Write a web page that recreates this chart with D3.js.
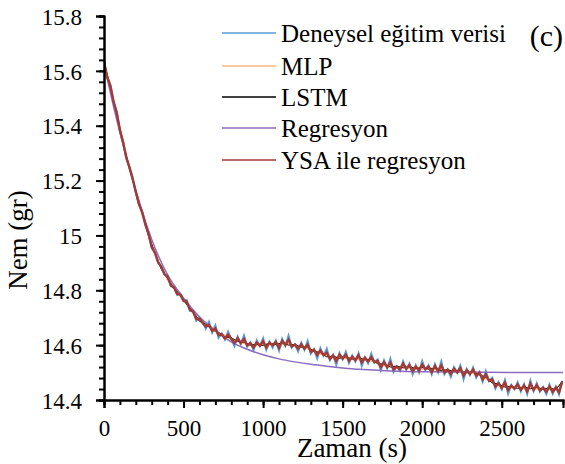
<!DOCTYPE html>
<html>
<head>
<meta charset="utf-8">
<script src="https://cdn.jsdelivr.net/npm/d3@7"></script>
<style>
  body { margin: 0; background: #fff; }
</style>
</head>
<body>
<div id="chart"></div>
<script>
// Data (time step 20 s for the noisy series)
const expTimes = d3.range(0, 2881, 20);
const expValues = [
  15.640, 15.574, 15.549, 15.486, 15.451, 15.382, 15.342, 15.280, 15.250, 15.212,
  15.157, 15.111, 15.087, 15.038, 15.010, 14.954, 14.939, 14.900, 14.888, 14.857,
  14.854, 14.815, 14.811, 14.783, 14.788, 14.760, 14.764, 14.725, 14.724, 14.689,
  14.700, 14.683, 14.660, 14.685, 14.646, 14.672, 14.627, 14.642, 14.620, 14.649,
  14.622, 14.597, 14.631, 14.604, 14.635, 14.594, 14.610, 14.582, 14.617, 14.596,
  14.625, 14.583, 14.613, 14.591, 14.617, 14.580, 14.623, 14.598, 14.635, 14.591,
  14.603, 14.577, 14.609, 14.583, 14.615, 14.569, 14.585, 14.551, 14.589, 14.562,
  14.587, 14.545, 14.565, 14.528, 14.571, 14.548, 14.576, 14.535, 14.562, 14.540,
  14.571, 14.524, 14.556, 14.534, 14.569, 14.536, 14.548, 14.508, 14.545, 14.515,
  14.551, 14.503, 14.523, 14.506, 14.541, 14.511, 14.533, 14.494, 14.526, 14.500,
  14.542, 14.510, 14.527, 14.494, 14.531, 14.501, 14.541, 14.494, 14.512, 14.484,
  14.520, 14.499, 14.526, 14.475, 14.513, 14.491, 14.519, 14.482, 14.502, 14.467,
  14.505, 14.469, 14.481, 14.442, 14.465, 14.439, 14.473, 14.423, 14.455, 14.439,
  14.465, 14.431, 14.458, 14.422, 14.471, 14.433, 14.461, 14.430, 14.447, 14.422,
  14.456, 14.423, 14.449, 14.420, 14.470
];
const ysaValues = [
  15.632, 15.578, 15.545, 15.489, 15.447, 15.385, 15.340, 15.285, 15.248, 15.206,
  15.158, 15.114, 15.084, 15.040, 15.005, 14.958, 14.937, 14.903, 14.885, 14.859,
  14.849, 14.818, 14.810, 14.787, 14.784, 14.762, 14.758, 14.729, 14.722, 14.695,
  14.696, 14.681, 14.668, 14.674, 14.652, 14.661, 14.637, 14.640, 14.625, 14.638,
  14.623, 14.608, 14.625, 14.607, 14.623, 14.599, 14.607, 14.591, 14.610, 14.598,
  14.614, 14.591, 14.609, 14.599, 14.612, 14.590, 14.616, 14.600, 14.620, 14.595,
  14.602, 14.587, 14.603, 14.587, 14.602, 14.575, 14.583, 14.564, 14.581, 14.563,
  14.573, 14.550, 14.562, 14.542, 14.565, 14.551, 14.565, 14.542, 14.558, 14.545,
  14.563, 14.537, 14.554, 14.540, 14.557, 14.538, 14.543, 14.519, 14.538, 14.519,
  14.537, 14.511, 14.522, 14.512, 14.533, 14.514, 14.527, 14.506, 14.522, 14.507,
  14.529, 14.512, 14.522, 14.502, 14.524, 14.505, 14.526, 14.500, 14.510, 14.495,
  14.514, 14.501, 14.517, 14.489, 14.509, 14.495, 14.511, 14.488, 14.499, 14.475,
  14.493, 14.470, 14.475, 14.449, 14.461, 14.444, 14.464, 14.436, 14.452, 14.442,
  14.457, 14.437, 14.453, 14.431, 14.460, 14.437, 14.454, 14.435, 14.445, 14.430,
  14.450, 14.430, 14.445, 14.428, 14.466
];
// Model outputs at 40 s step
const modelTimes = d3.range(0, 2881, 40);
const mlpValues = [
  15.628, 15.546, 15.436, 15.345, 15.241, 15.164, 15.077, 15.004, 14.932, 14.884,
  14.838, 14.813, 14.777, 14.754, 14.717, 14.693, 14.671, 14.661, 14.641, 14.636,
  14.621, 14.619, 14.606, 14.606, 14.598, 14.605, 14.601, 14.608, 14.603, 14.606,
  14.597, 14.598, 14.587, 14.583, 14.567, 14.563, 14.554, 14.558, 14.551, 14.555,
  14.548, 14.553, 14.542, 14.538, 14.525, 14.526, 14.518, 14.523, 14.515, 14.520,
  14.513, 14.518, 14.510, 14.513, 14.505, 14.509, 14.501, 14.505, 14.497, 14.498,
  14.477, 14.468, 14.452, 14.453, 14.444, 14.448, 14.442, 14.447, 14.440, 14.445,
  14.438, 14.443, 14.462
];
const lstmValues = [
  15.633, 15.538, 15.443, 15.336, 15.249, 15.157, 15.083, 14.997, 14.938, 14.877,
  14.843, 14.807, 14.783, 14.747, 14.723, 14.687, 14.677, 14.655, 14.647, 14.630,
  14.627, 14.613, 14.611, 14.600, 14.603, 14.599, 14.607, 14.602, 14.608, 14.600,
  14.603, 14.592, 14.593, 14.577, 14.573, 14.557, 14.560, 14.552, 14.557, 14.549,
  14.554, 14.547, 14.548, 14.532, 14.531, 14.520, 14.524, 14.517, 14.521, 14.514,
  14.519, 14.512, 14.516, 14.507, 14.511, 14.503, 14.507, 14.499, 14.503, 14.492,
  14.483, 14.462, 14.458, 14.447, 14.450, 14.442, 14.448, 14.441, 14.446, 14.439,
  14.444, 14.437, 14.468
];
// Regression curve (smooth)
const regTimes = [0, 50, 100, 150, 200, 250, 300, 400, 500, 600, 700, 800, 900, 1000,
  1100, 1200, 1300, 1400, 1500, 1600, 1700, 1800, 1900, 2000, 2200, 2400, 2600, 2885];
const regValues = [15.63, 15.495, 15.375, 15.265, 15.165, 15.07, 14.985, 14.856, 14.772,
  14.703, 14.652, 14.612, 14.585, 14.565, 14.55, 14.539, 14.53, 14.523, 14.517, 14.512,
  14.509, 14.506, 14.504, 14.503, 14.502, 14.501, 14.5, 14.5];

const xTicks = [0, 500, 1000, 1500, 2000, 2500];
const yTicks = [14.4, 14.6, 14.8, 15, 15.2, 15.4, 15.6, 15.8];

const seriesNames = ["Deneysel eğitim verisi", "MLP", "LSTM", "Regresyon", "YSA ile regresyon"];
const seriesColors = ["#5b9bd5", "#f8b77f", "#000000", "#8a6cc0", "#a23a35"];

const FONT = '"Liberation Serif"';

// Dimensions
const W = 565, H = 464;
const plot = { left: 104, right: 563, top: 16, bottom: 400 };

const svg = d3.select("#chart").append("svg")
  .attr("width", W)
  .attr("height", H);

const x = d3.scaleLinear().domain([0, 2885]).range([plot.left, plot.right]);
const y = d3.scaleLinear().domain([14.4, 15.8]).range([plot.bottom, plot.top]);

svg.append("clipPath").attr("id", "clip")
  .append("rect")
  .attr("x", plot.left).attr("y", plot.top - 2)
  .attr("width", plot.right - plot.left + 2)
  .attr("height", plot.bottom - plot.top + 2);

const pts = (ts, vs) => ts.map((t, i) => [t, vs[i]]);
const line = d3.line().x(d => x(d[0])).y(d => y(d[1]));
const smooth = d3.line().x(d => x(d[0])).y(d => y(d[1])).curve(d3.curveMonotoneX);

const lines = svg.append("g").attr("clip-path", "url(#clip)").attr("fill", "none");
lines.append("path").attr("d", line(pts(expTimes, expValues)))
  .attr("stroke", seriesColors[0]).attr("stroke-width", 2);
lines.append("path").attr("d", line(pts(modelTimes, mlpValues)))
  .attr("stroke", seriesColors[1]).attr("stroke-width", 1.5);
lines.append("path").attr("d", line(pts(modelTimes, lstmValues)))
  .attr("stroke", seriesColors[2]).attr("stroke-width", 1);
lines.append("path").attr("d", smooth(pts(regTimes, regValues)))
  .attr("stroke", seriesColors[3]).attr("stroke-width", 1.5);
lines.append("path").attr("d", line(pts(expTimes, ysaValues)))
  .attr("stroke", seriesColors[4]).attr("stroke-width", 2.4);

// Axes: minor ticks first, then major with labels
const yMinor = svg.append("g").attr("transform", `translate(${plot.left},0)`)
  .call(d3.axisLeft(y).tickValues(d3.range(14.4, 15.81, 0.04)).tickSize(5).tickFormat(""));
const yMajor = svg.append("g").attr("transform", `translate(${plot.left},0)`)
  .call(d3.axisLeft(y).tickValues(yTicks).tickSize(8).tickPadding(14)
    .tickFormat(d => String(+d.toFixed(1))));
const xMinor = svg.append("g").attr("transform", `translate(0,${plot.bottom})`)
  .call(d3.axisBottom(x).tickValues(d3.range(0, 2885, 100)).tickSize(5).tickFormat(""));
const xMajor = svg.append("g").attr("transform", `translate(0,${plot.bottom})`)
  .call(d3.axisBottom(x).tickValues(xTicks).tickSize(8).tickPadding(12).tickFormat(d3.format("d")));

[yMinor, yMajor, xMinor, xMajor].forEach(g => {
  g.attr("font-family", null);
  g.select(".domain").attr("stroke", "#000").attr("stroke-width", 2);
  g.selectAll(".tick line").attr("stroke", "#000").attr("stroke-width", 2);
});
yMajor.selectAll(".tick text").attr("font-family", FONT).attr("font-size", 23)
  .attr("dy", "0.36em").attr("fill", "#000");
xMajor.selectAll(".tick text").attr("font-family", FONT).attr("font-size", 23).attr("fill", "#000");

// Axis titles
svg.append("text")
  .attr("x", 352).attr("y", 457)
  .attr("text-anchor", "middle")
  .attr("font-family", FONT)
  .attr("font-size", 27)
  .text("Zaman (s)");
svg.append("text")
  .attr("transform", "translate(27,240) rotate(-90)")
  .attr("text-anchor", "middle")
  .attr("font-family", FONT)
  .attr("font-size", 27)
  .text("Nem (gr)");

// Legend
const legendY = [33, 66, 97, 128, 160];
const legend = svg.append("g");
seriesNames.forEach((name, i) => {
  legend.append("line")
    .attr("x1", 222).attr("x2", 276)
    .attr("y1", legendY[i]).attr("y2", legendY[i])
    .attr("stroke", seriesColors[i]).attr("stroke-width", 1.6);
  legend.append("text")
    .attr("x", 281).attr("y", legendY[i] + 8.5)
    .attr("font-family", FONT)
    .attr("font-size", 25)
    .text(name);
});

// Panel label
svg.append("text")
  .attr("x", 563).attr("y", 46)
  .attr("text-anchor", "end")
  .attr("font-family", FONT)
  .attr("font-size", 30)
  .text("(c)");
</script>
</body>
</html>
